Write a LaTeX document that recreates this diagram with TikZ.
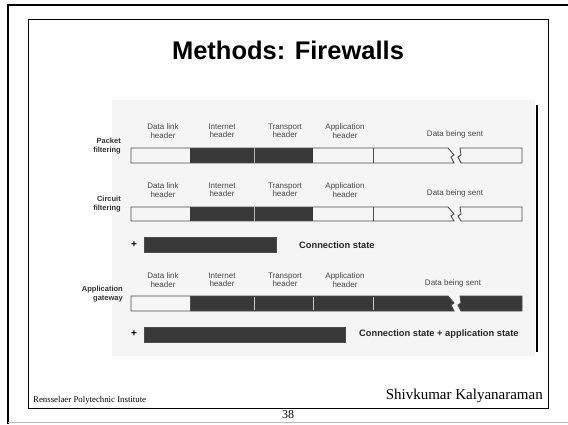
\documentclass[tikz,border=0pt]{standalone}
\usepackage{fontspec}
\setmainfont{Liberation Serif}
\newfontfamily\arialfont{Liberation Sans}
\definecolor{scanbg}{gray}{0.96}
\definecolor{dark}{gray}{0.22}
\definecolor{edge}{gray}{0.3}
\definecolor{labelgray}{gray}{0.28}
\tikzset{
  hdr/.style={font=\arialfont\fontsize{8}{8.5}\selectfont, text=labelgray, align=center, inner sep=0pt},
  sidelbl/.style={font=\arialfont\bfseries\fontsize{7.5}{8.5}\selectfont, text=black!80, align=right, anchor=east, inner sep=0pt},
  statelbl/.style={font=\arialfont\bfseries\fontsize{9.3}{10}\selectfont, text=black!85, anchor=west, inner sep=0pt},
  baredge/.style={draw=edge, line width=0.9pt},
  divider/.style={draw=gray!60, line width=0.8pt},
}
\begin{document}
\begin{tikzpicture}[x=1pt,y=-1pt]
\useasboundingbox (0,0) rectangle (568,424);
\fill[white] (0,0) rectangle (568,424);
% outer frame
\draw[line width=2.4pt] (8,424) -- (8,5) -- (568,5);
\draw[gray!55, line width=0.8pt] (8,422) -- (568,422);
% inner frame
\draw[line width=0.9pt] (28,19) rectangle (548,408);
% title
\node[font=\arialfont\bfseries\fontsize{25.5}{30}\selectfont] (title) at (288,50) {Methods: Firewalls};
% scanned area
\fill[scanbg] (112,100) rectangle (535,356);
\draw[line width=2pt] (537,105) -- (537,352);

% rows 1 and 2: packet / circuit filtering
\foreach \yt/\yb in {148/163, 207/221} {
  \fill[dark] (190,\yt) rectangle (313,\yb);
  \draw[baredge] (131,\yt) -- (448,\yt) -- (454,\yt+7) -- (451,\yt+9) -- (454,\yb) -- (131,\yb) -- cycle;
  \draw[baredge] (460,\yt) -- (522,\yt) -- (522,\yb) -- (461,\yb) -- (458,\yt+9) -- (461,\yt+7) -- cycle;
  \draw[divider] (254,\yt) -- (254,\yb);
  \draw[baredge] (373,\yt) -- (373,\yb);
}
% row 3: application gateway
\fill[dark] (190,296) -- (448,296) -- (454,303) -- (451,305) -- (454,311) -- (190,311) -- cycle;
\fill[dark] (460,296) -- (522,296) -- (522,311) -- (461,311) -- (458,305) -- (461,303) -- cycle;
\draw[baredge] (131,296) -- (448,296) -- (454,303) -- (451,305) -- (454,311) -- (131,311) -- cycle;
\draw[baredge] (460,296) -- (522,296) -- (522,311) -- (461,311) -- (458,305) -- (461,303) -- cycle;
\draw[baredge] (190,296) -- (190,311);
\foreach \x in {254,313,373} \draw[gray!45, line width=0.6pt] (\x,297) -- (\x,310);

% header labels
\foreach \y/\r in {131/a, 190/b, 280/c} {
  \node[hdr] (dl\r) at (163,\y) {Data link\\header};
  \node[hdr] (ih\r) at (222,\y) {Internet\\header};
  \node[hdr] (th\r) at (285,\y) {Transport\\header};
  \node[hdr] (ah\r) at (345,\y) {Application\\header};
}
\node[hdr] (ds1) at (455,134) {Data being sent};
\node[hdr] (ds2) at (455,193) {Data being sent};
\node[hdr] (ds3) at (453,283) {Data being sent};

% side labels
\node[sidelbl] (pf) at (121,146) {Packet\\filtering};
\node[sidelbl] (cf) at (121,204) {Circuit\\filtering};
\node[sidelbl] (ag) at (123,294) {Application\\gateway};

% connection state bars
\node[font=\arialfont\bfseries\fontsize{10}{10}\selectfont, inner sep=0pt] (plus1) at (134,245) {+};
\fill[dark] (144,237) rectangle (276,252);
\draw[edge, line width=0.6pt] (144,237) rectangle (276,252);
\node[statelbl] (cs1) at (299,245) {Connection state};

\node[font=\arialfont\bfseries\fontsize{10}{10}\selectfont, inner sep=0pt] (plus2) at (134,334) {+};
\fill[dark] (144,327) rectangle (345,342);
\draw[edge, line width=0.6pt] (144,327) rectangle (345,342);
\node[statelbl] (cs2) at (359,334) {Connection state + application state};

% footer
\node[font=\fontsize{8.8}{10}\selectfont, anchor=west, inner sep=0pt] (rpi) at (33,400) {Rensselaer Polytechnic Institute};
\node[font=\fontsize{15}{17}\selectfont, anchor=east, inner sep=0pt] (sk) at (543,396) {Shivkumar Kalyanaraman};
\node[font=\fontsize{12}{14}\selectfont, inner sep=0pt] (pg) at (288,415) {38};
\end{tikzpicture}
\end{document}
